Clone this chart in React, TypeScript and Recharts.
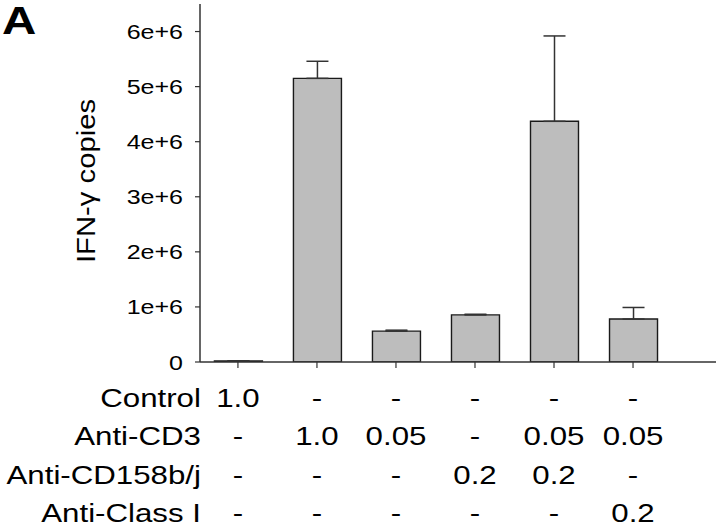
import React from 'react';
import { BarChart, Bar, XAxis, YAxis, ErrorBar } from 'recharts';

const conditions = ['Control', 'Anti-CD3', 'Anti-CD158b/j', 'Anti-Class I'];
const controlRow = ['1.0', '-', '-', '-', '-', '-'];
const cd3Row = ['-', '1.0', '0.05', '-', '0.05', '0.05'];
const cd158Row = ['-', '-', '-', '0.2', '0.2', '-'];
const classIRow = ['-', '-', '-', '-', '-', '0.2'];
const ifnCopies = [20000, 5150000, 560000, 855000, 4370000, 780000];
const ifnErrUpper = [0, 310000, 18000, 12000, 1550000, 210000];
const yTicks = [0, 1e6, 2e6, 3e6, 4e6, 5e6, 6e6];
const yTickLabels = ['0', '1e+6', '2e+6', '3e+6', '4e+6', '5e+6', '6e+6'];
const yTitle = 'IFN-γ copies';
const panelLabel = 'A';

const rows = [controlRow, cd3Row, cd158Row, classIRow];
const data = ifnCopies.map((v, i) => ({ pos: i, copies: v, err: [0, ifnErrUpper[i]] }));

const FONT = '"Liberation Sans", Arial, Helvetica, sans-serif';
const SX = 1.25;

const YTick = (props: any) => {
  const { x, y, payload, index } = props;
  const idx = yTicks.indexOf(payload.value);
  return (
    <g>
      <g transform={`translate(${x},${y + 7.5}) scale(${SX},1)`}>
        <text x={0} y={0} textAnchor="end" fontFamily={FONT} fontSize={20} fill="#000">
          {yTickLabels[idx]}
        </text>
      </g>
      {index === 0 && (
        <g>
          <g transform={`translate(95,181) scale(${SX},1) rotate(-90)`}>
            <text x={0} y={0} textAnchor="middle" fontFamily={FONT} fontSize={21} fill="#000"
              textLength={164} lengthAdjust="spacingAndGlyphs">
              {yTitle}
            </text>
          </g>
          <g transform={`translate(2,34) scale(${SX},1)`}>
            <text x={0} y={0} textAnchor="start" fontFamily={FONT} fontSize={38} fontWeight="bold" fill="#000">
              {panelLabel}
            </text>
          </g>
        </g>
      )}
    </g>
  );
};

const XTick = (props: any) => {
  const { x, y, payload, index } = props;
  const col = payload.value;
  return (
    <g>
      {rows.map((r, i) => (
        <g key={i} transform={`translate(${x},${y + 37 + i * 38.3}) scale(${SX},1)`}>
          <text x={0} y={0} textAnchor="middle" fontFamily={FONT} fontSize={25} fill="#000">
            {r[col]}
          </text>
        </g>
      ))}
      {index === 0 &&
        conditions.map((c, i) => (
          <g key={'c' + i} transform={`translate(${x - 37},${y + 37 + i * 38.3}) scale(${SX},1)`}>
            <text x={0} y={0} textAnchor="end" fontFamily={FONT} fontSize={25} fill="#000">
              {c}
            </text>
          </g>
        ))}
    </g>
  );
};

export default function App() {
  const domainX: [number, number] = [-0.48, 6.05];
  return (
    <div style={{ position: 'absolute', left: 0, top: 0, background: '#fff' }}>
      <BarChart width={720} height={531} data={data} margin={{ top: 4, right: 4, left: 0, bottom: 0 }}>
        <XAxis
          dataKey="pos"
          type="number"
          domain={domainX}
          ticks={[0, 1, 2, 3, 4, 5]}
          allowDataOverflow
          height={169}
          tickSize={6}
          tickMargin={2}
          interval={0}
          tick={<XTick />}
          axisLine={{ stroke: '#333', strokeWidth: 1.5 }}
          tickLine={{ stroke: '#333', strokeWidth: 1.2 }}
        />
        <XAxis
          xAxisId="top"
          orientation="top"
          type="number"
          domain={domainX}
          allowDataOverflow
          height={0}
          tick={false}
          tickLine={false}
          axisLine={{ stroke: '#333', strokeWidth: 1.5 }}
        />
        <YAxis
          type="number"
          domain={[0, 6500000]}
          ticks={yTicks}
          interval={0}
          allowDataOverflow
          width={200}
          tickSize={5}
          tickMargin={12}
          tick={<YTick />}
          axisLine={{ stroke: '#333', strokeWidth: 1.5 }}
          tickLine={{ stroke: '#333', strokeWidth: 1.2 }}
        />
        <YAxis
          yAxisId="r"
          orientation="right"
          type="number"
          domain={[0, 1]}
          width={0}
          tick={false}
          tickLine={false}
          axisLine={{ stroke: '#333', strokeWidth: 1.5 }}
        />
        <Bar
          dataKey="copies"
          barSize={48}
          fill="#bdbdbd"
          stroke="#1a1a1a"
          strokeWidth={1.4}
          isAnimationActive={false}
        >
          <ErrorBar dataKey="err" direction="y" width={11} stroke="#333" strokeWidth={1.5} isAnimationActive={false} />
        </Bar>
      </BarChart>
    </div>
  );
}
